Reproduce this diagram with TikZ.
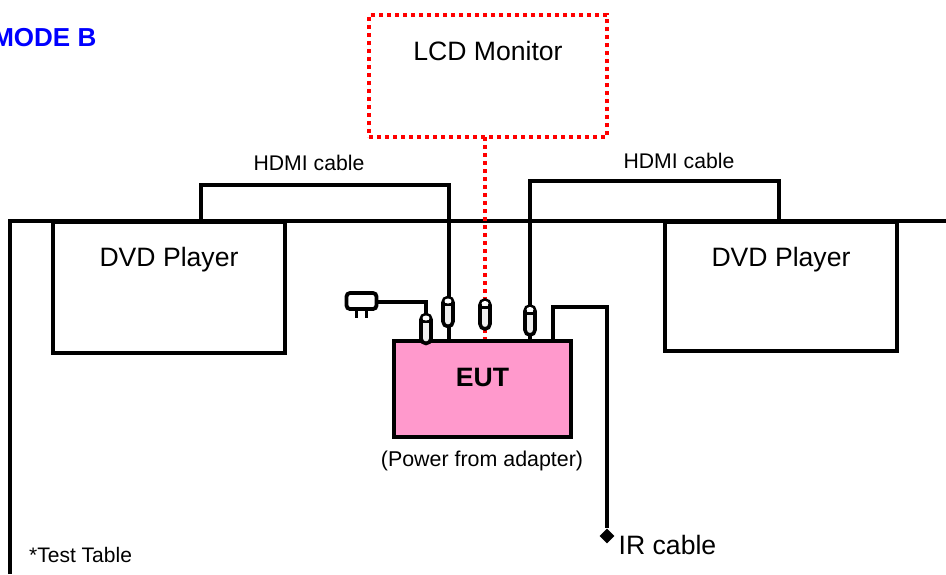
\documentclass[tikz,border=0pt]{standalone}
\usepackage{fontspec}
\setmainfont{Liberation Sans}
\usetikzlibrary{shapes.geometric,positioning,calc}
\definecolor{eutpink}{RGB}{255,153,204}
\definecolor{modeblue}{RGB}{0,0,255}
\definecolor{dotred}{RGB}{255,0,0}
\definecolor{plugfill}{RGB}{238,238,238}
\tikzset{
  wire/.style={line width=3.8pt,line join=miter},
  dotwire/.style={line width=4.4pt,dotred,dash pattern=on 4pt off 4pt},
  box/.style={draw,line width=3.8pt,rectangle,inner sep=0pt},
  plugbody/.style={draw,line width=3.6pt,rectangle,rounded corners=5pt,fill=plugfill,outer sep=0pt,minimum width=10pt,minimum height=29pt,inner sep=0pt},
  plugband/.style={line width=3pt},
  plugeye/.style={fill=white,ellipse,minimum width=7pt,minimum height=5pt,inner sep=0pt},
  biglabel/.style={font=\fontsize{26.6}{30}\selectfont,inner sep=0pt},
  smalllabel/.style={font=\fontsize{21.4}{24}\selectfont,inner sep=0pt},
}
\begin{document}
\begin{tikzpicture}[x=1pt,y=-1pt]
    \useasboundingbox (0,0) rectangle (946,574);

    % table edge
    \coordinate (T0) at (10,574);
    \coordinate (T1) at (10,221);
    \coordinate (T2) at (946,221);
    \draw[wire] (T0) -- (T1) -- (T2);

    % boxes
    \node[box,dotwire,dash pattern=on 4pt off 4pt,minimum width=238pt,minimum height=122pt] (LCD) at (488,76) {};
    \node[box,fill=white,minimum width=232pt,minimum height=131pt] (DVD1) at (169,287.5) {};
    \node[box,fill=white,minimum width=232pt,minimum height=129pt] (DVD2) at (781,286.5) {};

    \node[biglabel] (LCDtext) at (488,51) {LCD Monitor};
    \node[biglabel] (DVD1text) at (169,260) {DVD Player};
    \node[biglabel] (DVD2text) at (781,260) {DVD Player};

    % connection points on the boxes
    \coordinate (H1a) at (201,221);
    \coordinate (H1b) at (201,185);
    \coordinate (H1c) at (449,185);
    \coordinate (H1d) at (449,341);
    \coordinate (H2a) at (779,221);
    \coordinate (H2b) at (779,181);
    \coordinate (H2c) at (530,181);
    \coordinate (H2d) at (530,341);
    \draw[wire] (H1a) -- (H1b) -- (H1c) -- (H1d);
    \draw[wire] (H2a) -- (H2b) -- (H2c) -- (H2d);

    \coordinate (R0) at (485,137);
    \coordinate (R1) at (485,341);
    \draw[dotwire] (R0) -- (R1);

    % EUT
    \node[box,fill=eutpink,minimum width=177pt,minimum height=96pt] (EUT) at (482.5,389) {};
    \node[font=\bfseries\fontsize{26.6}{30}\selectfont,inner sep=0pt] (EUTtext) at (482.5,377) {EUT};
    \node[smalllabel] (power) at (482,460.5) {(Power from adapter)};

    % IR cable
    \coordinate (I0) at (553,341);
    \coordinate (I1) at (553,307);
    \coordinate (I2) at (607,307);
    \node[diamond,fill=black,minimum size=15pt,inner sep=0pt] (IRend) at (607,536) {};
    \draw[wire] (I0) -- (I1) -- (I2) -- (IRend);
    \node[biglabel,anchor=west] (IRtext) at (618.5,545) {IR cable};

    % adapter
    \node[draw,line width=3.8pt,rounded corners=3.5pt,fill=white,minimum width=30pt,minimum height=16pt,inner sep=0pt] (adapter) at (361.5,301) {};
    \coordinate (P1) at (356,318);
    \coordinate (P2) at (366,318);
    \draw[line width=3pt] (adapter.south -| P1) -- (P1);
    \draw[line width=3pt] (adapter.south -| P2) -- (P2);
    \coordinate (A0) at (426,302);

    % plugs
    \node[plugbody] (plugA) at (426,329) {};
    \node[plugbody] (plugB) at (448,312) {};
    \node[plugbody] (plugC) at (485,314.5) {};
    \node[plugbody] (plugD) at (530,320.5) {};
    \draw[wire] (adapter.east |- A0) -- (A0) -- (plugA.north);
    \draw[plugband] ($(plugA.north west)+(0,7)$) -- ($(plugA.north east)+(0,7)$);
    \draw[plugband] ($(plugB.north west)+(0,7)$) -- ($(plugB.north east)+(0,7)$);
    \draw[plugband] ($(plugC.north west)+(0,7)$) -- ($(plugC.north east)+(0,7)$);
    \draw[plugband] ($(plugD.north west)+(0,7)$) -- ($(plugD.north east)+(0,7)$);
    \node[plugeye] (eyeA) at ($(plugA.north)+(0,3.5)$) {};
    \node[plugeye] (eyeB) at ($(plugB.north)+(0,3.5)$) {};
    \node[plugeye] (eyeC) at ($(plugC.north)+(0,3.5)$) {};
    \node[plugeye] (eyeD) at ($(plugD.north)+(0,3.5)$) {};

    % labels
    \node[smalllabel,font=\fontsize{21.2}{24}\selectfont] (HDMI1) at (309,163) {HDMI cable};
    \node[smalllabel,font=\fontsize{21.2}{24}\selectfont] (HDMI2) at (679,161) {HDMI cable};
    \node[smalllabel,font=\fontsize{21}{24}\selectfont,anchor=west] (table) at (29,555) {*Test Table};
    \node[font=\bfseries\fontsize{26}{30}\selectfont,text=modeblue,inner sep=0pt,anchor=east] (mode) at (96.5,38) {MODE B};
\end{tikzpicture}
\end{document}
